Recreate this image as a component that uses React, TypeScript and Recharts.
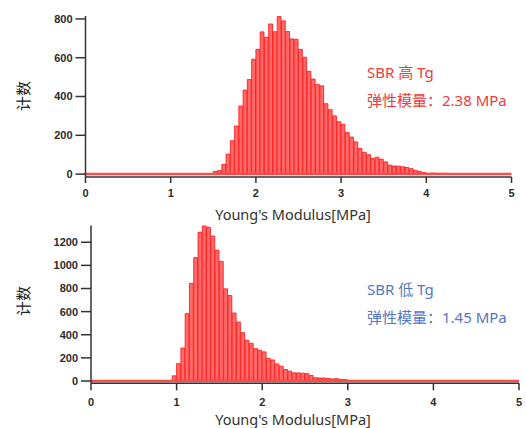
import { Bar, BarChart, ReferenceLine, XAxis, YAxis } from "recharts";

const BIN_WIDTH = 0.05;
const xTicks = [0, 1, 2, 3, 4, 5];
const highTgTicks = [0, 200, 400, 600, 800];
const lowTgTicks = [0, 200, 400, 600, 800, 1000, 1200];

// counts per 0.05 MPa bin, starting at 0
const highTgCounts = [
  0, 0, 0, 0, 0, 0, 0, 0, 0, 0, 0, 0, 0, 0, 0, 0, 0, 0, 0, 0,
  0, 0, 0, 0, 0, 0, 0, 0, 0, 0, 14, 18, 50, 103, 172, 248, 351, 433, 488, 592,
  643, 733, 705, 774, 734, 812, 790, 735, 697, 695, 643, 602, 530, 490, 462, 455, 363, 332, 300, 270,
  257, 214, 191, 166, 132, 112, 100, 80, 87, 77, 63, 46, 42, 41, 38, 34, 28, 19, 13, 8,
  4, 5, 4, 4, 4, 0, 0, 0, 0, 0, 0, 0, 0, 0, 0, 0, 0, 0, 0, 0,
];

const lowTgCounts = [
  0, 0, 0, 0, 0, 0, 0, 0, 0, 0, 0, 0, 0, 0, 0, 0, 0, 0, 0, 45,
  150, 285, 582, 845, 1067, 1287, 1341, 1330, 1254, 1132, 1034, 797, 740, 588, 510, 418, 353, 326, 280, 266,
  252, 196, 182, 148, 128, 99, 85, 70, 70, 68, 64, 48, 28, 26, 26, 22, 18, 20, 13, 12,
  0, 0, 0, 0, 0, 0, 0, 0, 0, 0, 0, 0, 0, 0, 0, 0, 0, 0, 0, 0,
  0, 0, 0, 0, 0, 0, 0, 0, 0, 0, 0, 0, 0, 0, 0, 0, 0, 0, 0, 0,
];

const toBins = (counts: number[]) =>
  counts.map((count, i) => ({ x: (i + 0.5) * BIN_WIDTH, count }));

const tickStyle = {
  fontSize: 11,
  fontWeight: 700,
  fill: "#2b2b2b",
  fontFamily: "'Liberation Sans', Arial, sans-serif",
};
const axisStroke = { stroke: "#333", strokeWidth: 1.5 };
const cjk = "'Noto Sans', 'Noto Sans CJK SC', sans-serif";

interface HistProps {
  counts: number[];
  yTicks: number[];
  yDomain: [number, number];
  top: number;
  height: number;
  left: number;
  right: number;
  plotTop: number;
  xAxisHeight: number;
  tickSize: number;
  tickMargin: number;
  labelY: number;
  title: string;
  value: string;
  color: string;
  noteY: number;
  yLabelY: number;
}

function Histogram(p: HistProps) {
  const plotWidth = 526 - p.left - p.right;
  return (
    <div style={{ position: "absolute", left: 0, top: p.top }}>
      <BarChart
        width={526}
        height={p.height}
        data={toBins(p.counts)}
        margin={{ top: p.plotTop, right: p.right, left: 0, bottom: 0 }}
        barCategoryGap={0}
        barGap={0}
      >
        <XAxis
          type="number"
          dataKey="x"
          domain={[0, 5]}
          ticks={xTicks}
          interval={0}
          height={p.xAxisHeight}
          tickSize={p.tickSize}
          tickMargin={p.tickMargin}
          tick={tickStyle}
          axisLine={axisStroke}
          tickLine={axisStroke}
        />
        <YAxis
          type="number"
          domain={p.yDomain}
          ticks={p.yTicks}
          interval={0}
          width={p.left}
          tickSize={10}
          tickMargin={3}
          tick={tickStyle}
          axisLine={axisStroke}
          tickLine={axisStroke}
        />
        <ReferenceLine y={0} stroke="#ff4a4a" strokeWidth={2.5} />
        <Bar
          dataKey="count"
          fill="#ff6a6a"
          stroke="#ff1010"
          strokeWidth={0.8}
          barSize={plotWidth / p.counts.length}
          isAnimationActive={false}
        />
        <text
          x={23}
          y={p.yLabelY}
          transform={`rotate(-90 23 ${p.yLabelY})`}
          textAnchor="middle"
          dominantBaseline="central"
          fontSize={15}
          fill="#222"
          fontFamily={cjk}
        >
          计数
        </text>
        <text
          x={293}
          y={p.labelY}
          textAnchor="middle"
          dominantBaseline="central"
          fontSize={14.5}
          fill="#333"
          fontFamily={cjk}
        >
          Young's Modulus[MPa]
        </text>
        <text x={367} y={p.noteY} dominantBaseline="central" fontSize={15} fill={p.color} fontFamily={cjk}>
          {p.title}
        </text>
        <text x={367} y={p.noteY + 28} dominantBaseline="central" fontSize={15} fill={p.color} fontFamily={cjk}>
          {p.value}
        </text>
      </BarChart>
    </div>
  );
}

export default function App() {
  return (
    <div
      style={{
        position: "absolute",
        left: 0,
        top: 0,
        width: 526,
        height: 428,
        background: "#fff",
        overflow: "hidden",
      }}
    >
      <Histogram
        counts={highTgCounts}
        yTicks={highTgTicks}
        yDomain={[-15, 815]}
        top={0}
        height={232}
        left={85.5}
        right={14.5}
        plotTop={16}
        xAxisHeight={55}
        tickSize={6}
        tickMargin={6}
        labelY={214}
        title="SBR 高 Tg"
        value="弹性模量：2.38 MPa"
        color="#ee3b3b"
        noteY={72}
        yLabelY={96}
      />
      <Histogram
        counts={lowTgCounts}
        yTicks={lowTgTicks}
        yDomain={[-20, 1345]}
        top={210}
        height={218}
        left={91}
        right={7}
        plotTop={15.5}
        xAxisHeight={44.7}
        tickSize={7}
        tickMargin={8}
        labelY={208.5}
        title="SBR 低 Tg"
        value="弹性模量：1.45 MPa"
        color="#5677c4"
        noteY={79}
        yLabelY={91}
      />
    </div>
  );
}
